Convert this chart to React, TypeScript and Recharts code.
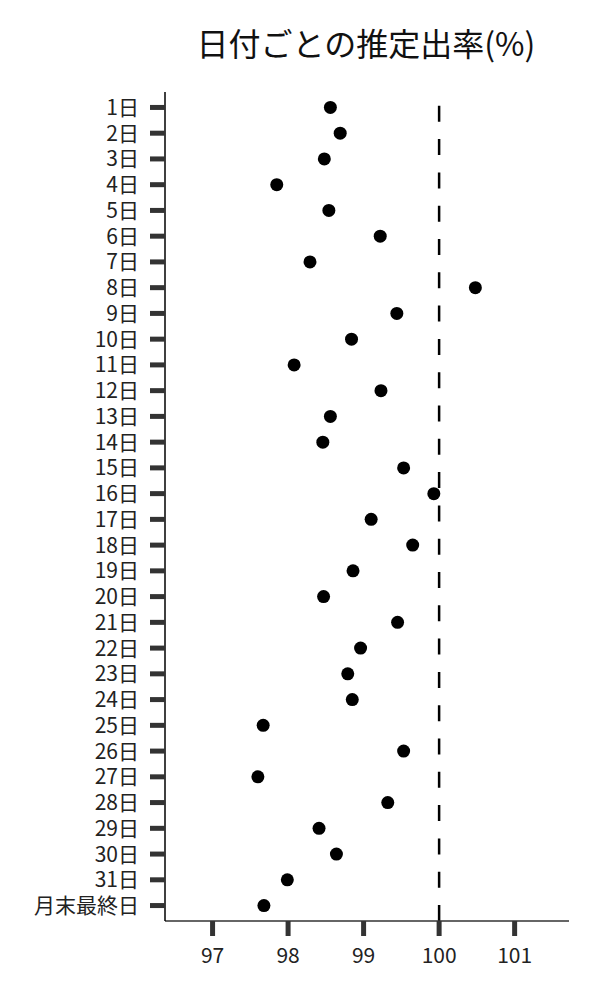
import { ScatterChart, Scatter, XAxis, YAxis, ReferenceLine } from 'recharts';

const FONT = '"Noto Sans CJK JP", "Noto Sans", sans-serif';

// day labels, top to bottom
const dayLabels = [
  '1日', '2日', '3日', '4日', '5日', '6日', '7日', '8日', '9日', '10日',
  '11日', '12日', '13日', '14日', '15日', '16日', '17日', '18日', '19日', '20日',
  '21日', '22日', '23日', '24日', '25日', '26日', '27日', '28日', '29日', '30日',
  '31日', '月末最終日',
];

// estimated rate (%) per day
const rates = [
  98.56, 98.69, 98.48, 97.85, 98.54, 99.22, 98.29, 100.48, 99.44, 98.84,
  98.08, 99.23, 98.56, 98.46, 99.53, 99.93, 99.1, 99.65, 98.86, 98.47,
  99.45, 98.96, 98.79, 98.85, 97.67, 99.53, 97.6, 99.32, 98.41, 98.64,
  97.99, 97.68,
];

const xTicks = [97, 98, 99, 100, 101];
const refValue = 100;

const data = rates.map((rate, i) => ({ rate, idx: i }));
const yTicks = dayLabels.map((_, i) => i);

const Dot = (props: any) => <circle cx={props.cx} cy={props.cy} r={6.5} fill="#000" />;

const App = () => {
  return (
    <div style={{ position: 'relative', width: 584, height: 984 }}>
      <div
        style={{
          position: 'absolute',
          left: 0,
          width: 716,
          top: 14,
          textAlign: 'center',
          fontFamily: FONT,
          fontSize: 32,
          lineHeight: '40px',
          color: '#111',
        }}
      >
        日付ごとの推定出率(%)
      </div>
      <ScatterChart width={584} height={984} margin={{ top: 84, right: 23, bottom: 41, left: 7 }}>
        <XAxis
          type="number"
          dataKey="rate"
          domain={[96.37, 101.72]}
          ticks={xTicks}
          allowDataOverflow
          height={30}
          tickSize={15}
          tickMargin={12}
          axisLine={{ stroke: '#333', strokeWidth: 1.5 }}
          tickLine={{ stroke: '#333', strokeWidth: 5 }}
          tick={{ fontFamily: FONT, fontSize: 21, fill: '#222' }}
        />
        <YAxis
          type="number"
          dataKey="idx"
          domain={[-0.6, 31.6]}
          reversed
          ticks={yTicks}
          interval={0}
          allowDataOverflow
          width={150}
          tickSize={15}
          tickMargin={11}
          tickFormatter={(v: number) => dayLabels[v] ?? ''}
          axisLine={{ stroke: '#000', strokeWidth: 1.5 }}
          tickLine={{ stroke: '#333', strokeWidth: 5 }}
          tick={{ fontFamily: FONT, fontSize: 21, fill: '#222' }}
        />
        <ReferenceLine
          segment={[
            { x: refValue, y: 31.6 },
            { x: refValue, y: -0.6 },
          ]}
          stroke="#000"
          strokeWidth={2.5}
          strokeDasharray="16 17.3"
        />
        <Scatter data={data} shape={Dot} isAnimationActive={false} />
      </ScatterChart>
    </div>
  );
};

export default App;
